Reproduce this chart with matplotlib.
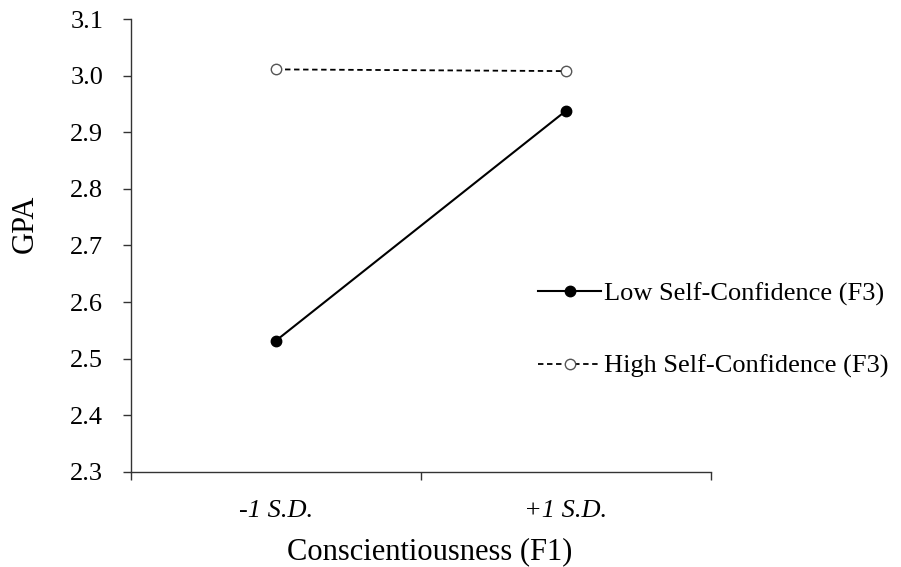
import matplotlib.pyplot as plt

# data
groups = ["-1 S.D.", "+1 S.D."]
low_conf = [2.532, 2.938]
high_conf = [3.011, 3.008]
yticks = [2.3, 2.4, 2.5, 2.6, 2.7, 2.8, 2.9, 3.0, 3.1]

plt.rcParams['font.family'] = ['Liberation Serif', 'DejaVu Serif']

fig = plt.figure(figsize=(9.01, 5.67), dpi=100)
ax = fig.add_axes([131/901, 1 - 472/567, 580/901, 453/567])

xpos = [0.5, 1.5]
ax.plot(xpos, low_conf, color='black', lw=1.5, marker='o', ms=7.5,
        mfc='black', mec='black', label='Low Self-Confidence (F3)')
ax.plot(xpos, high_conf, color='black', lw=1.3, ls=(0, (3, 2)), marker='o', ms=7.5,
        mfc='white', mec='#555555', mew=1.0, label='High Self-Confidence (F3)')

ax.set_xlim(0, 2)
ax.set_ylim(2.3, 3.1)
ax.set_yticks(yticks)
ax.set_yticklabels([f"{v:.1f}" for v in yticks], fontsize=19)
ax.set_xticks([0, 1, 2])
ax.set_xticklabels([])
ax.set_xticks(xpos, minor=True)
ax.set_xticklabels(groups, minor=True, fontsize=19, style='italic')
ax.tick_params(axis='x', which='minor', length=0, pad=20)
ax.tick_params(axis='x', which='major', length=6, direction='out', width=1, color='#333333')
ax.tick_params(axis='y', length=6, direction='out', width=1, color='#333333', pad=14)

for s in ['top', 'right']:
    ax.spines[s].set_visible(False)
for s in ['left', 'bottom']:
    ax.spines[s].set_color('#333333')
    ax.spines[s].set_linewidth(1.0)

ax.set_ylabel("GPA", fontsize=22)
ax.yaxis.set_label_coords(-0.157, 0.547)
ax.set_xlabel("Conscientiousness (F1)", fontsize=22)
ax.xaxis.set_label_coords(0.515, -0.143)
ax.xaxis.label.set_va('top')

fig.legend(loc='center left', bbox_to_anchor=(538/901, 1 - 330/567), frameon=False,
           fontsize=19, handlelength=2.4, handletextpad=0.1, labelspacing=1.85,
           borderpad=0, borderaxespad=0)

fig.savefig("out.png", dpi=100)
